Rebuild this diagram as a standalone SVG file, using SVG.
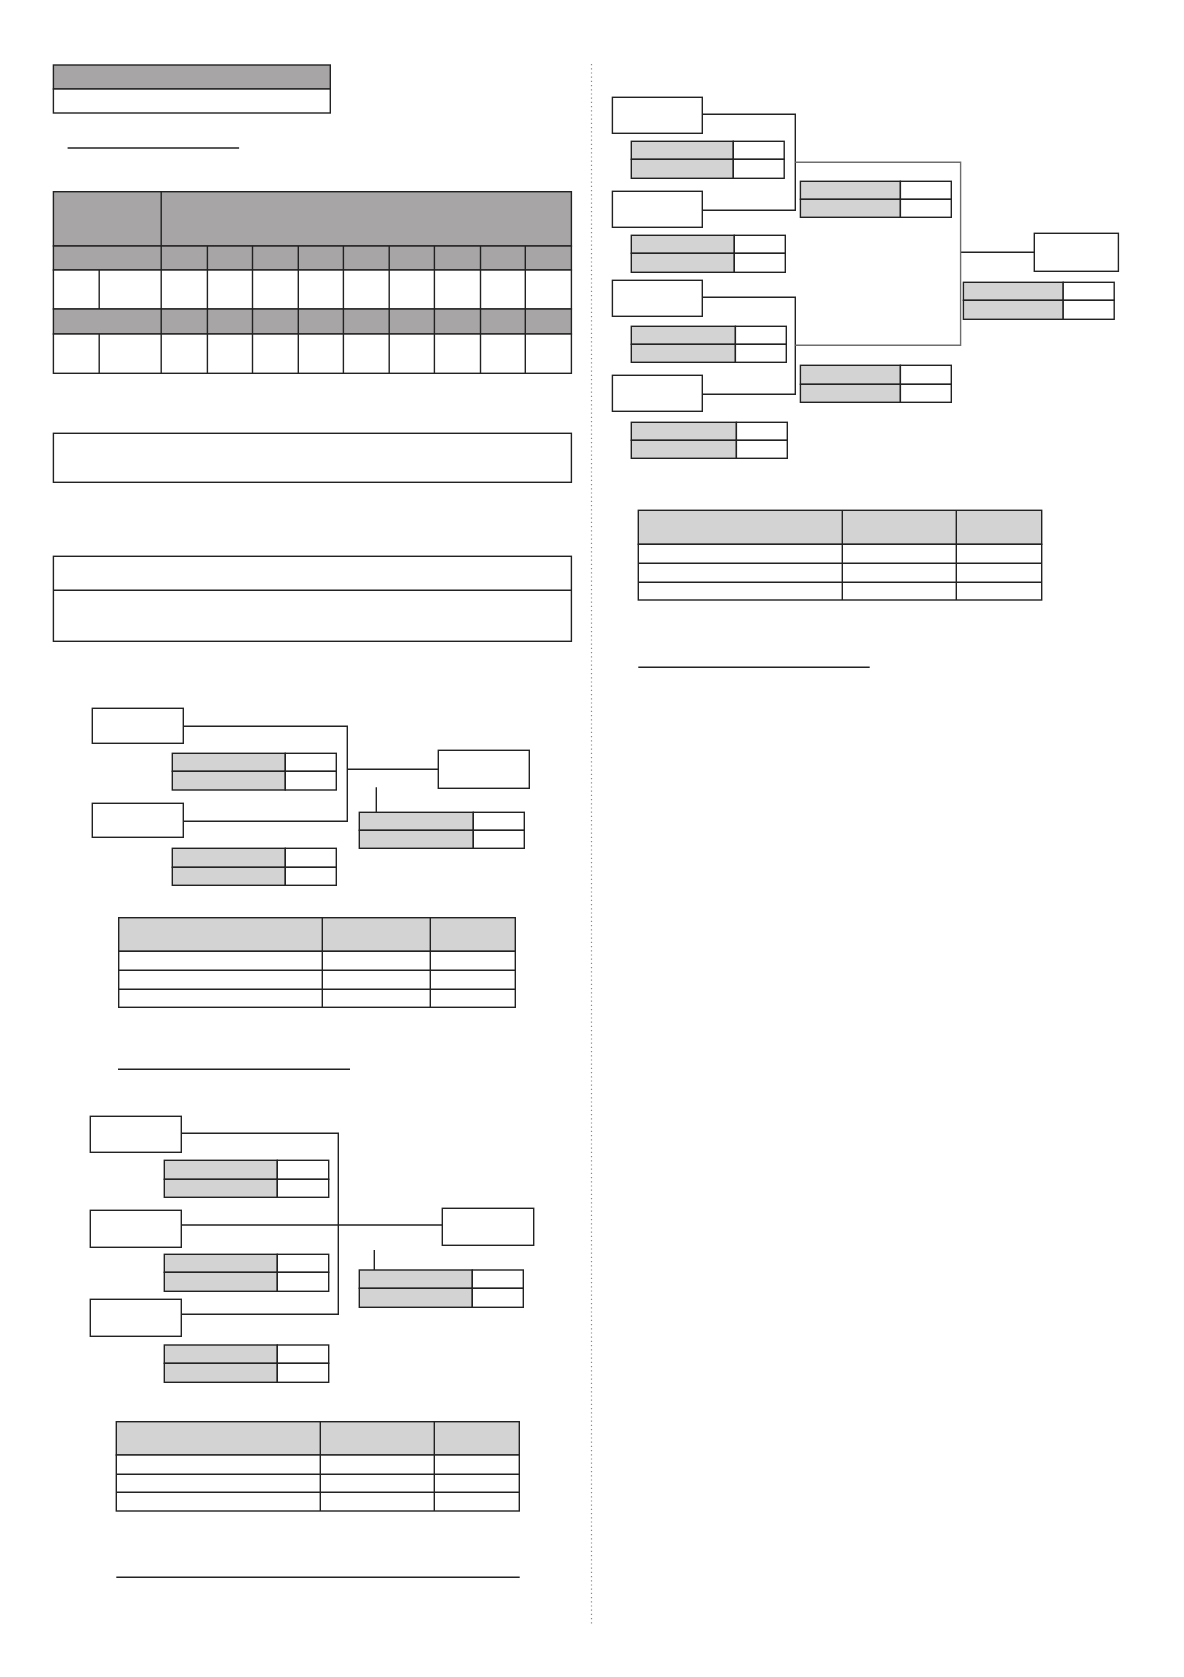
<svg xmlns="http://www.w3.org/2000/svg" width="1184" height="1677" viewBox="0 0 1184 1677">
<style>
.b{fill:#fff;stroke:#222;stroke-width:1.4}
.g{fill:#a7a5a6;stroke:#222;stroke-width:1.4}
.lg{fill:#d3d3d3;stroke:#222;stroke-width:1.4}
.l{fill:none;stroke:#222;stroke-width:1.4}
.ul{fill:none;stroke:#222;stroke-width:1.6}
</style>
<rect width="1184" height="1677" fill="#fff"/>
<line x1="591.5" y1="64" x2="591.5" y2="1624" stroke="#888" stroke-width="1.2" stroke-dasharray="1.2 3"/>

<g id="header-box">
<rect class="g" x="53.4" y="65" width="276.9" height="24"/>
<rect class="b" x="53.4" y="89" width="276.9" height="24"/>
</g>
<line class="ul" x1="67.6" y1="148" x2="239.1" y2="148" stroke-width="2.2"/>

<g id="grid-table">
<rect class="g" x="53.4" y="191.7" width="518" height="54.3"/>
<rect class="g" x="53.4" y="246" width="518" height="24"/>
<rect class="b" x="53.4" y="270" width="518" height="39"/>
<rect class="g" x="53.4" y="309" width="518" height="25"/>
<rect class="b" x="53.4" y="334" width="518" height="39.3"/>
<path class="l" d="M161.2 191.7V373.3M207.4 246V373.3M252.5 246V373.3M298.3 246V373.3M343.4 246V373.3M389.2 246V373.3M434.4 246V373.3M480.5 246V373.3M525.3 246V373.3M99.2 270V309M99.2 334V373.3"/>
</g>

<g id="box-1"><rect class="b" x="53.4" y="433.3" width="518" height="49"/></g>
<g id="box-2">
<rect class="b" x="53.4" y="556.3" width="518" height="85"/>
<line class="l" x1="53.4" y1="590.3" x2="571.4" y2="590.3"/>
</g>

<!-- Bracket 1 -->
<g id="connectors-1">
<path class="l" d="M183.3 726.3H347.3V821.3H183.3M347.3 769.3H438.3M376.3 787.3V812.3"/>
</g>
<g id="b1-nodeA"><rect class="b" x="92.3" y="708.3" width="91" height="35"/></g>
<g id="b1-scoreA">
<rect class="lg" x="172.3" y="753.3" width="113" height="18"/><rect class="lg" x="172.3" y="771.3" width="113" height="18.7"/>
<rect class="b" x="285.3" y="753.3" width="51" height="18"/><rect class="b" x="285.3" y="771.3" width="51" height="18.7"/>
</g>
<g id="b1-nodeB"><rect class="b" x="92.3" y="803.3" width="91" height="34"/></g>
<g id="b1-scoreB">
<rect class="lg" x="172.3" y="848.3" width="113" height="19"/><rect class="lg" x="172.3" y="867.3" width="113" height="18"/>
<rect class="b" x="285.3" y="848.3" width="51" height="19"/><rect class="b" x="285.3" y="867.3" width="51" height="18"/>
</g>
<g id="b1-nodeC"><rect class="b" x="438.3" y="750.3" width="91" height="38"/></g>
<g id="b1-scoreC">
<rect class="lg" x="359.3" y="812.3" width="114" height="18"/><rect class="lg" x="359.3" y="830.3" width="114" height="18"/>
<rect class="b" x="473.3" y="812.3" width="51" height="18"/><rect class="b" x="473.3" y="830.3" width="51" height="18"/>
</g>
<g id="b1-table">
<rect class="lg" x="118.7" y="917.7" width="396.6" height="33.6"/>
<rect class="b" x="118.7" y="951.3" width="396.6" height="56"/>
<path class="l" d="M118.7 970.3H515.3M118.7 989.3H515.3M322.3 917.7V1007.3M430.3 917.7V1007.3"/>
</g>
<line class="ul" x1="118" y1="1069.3" x2="350" y2="1069.3"/>

<!-- Bracket 2 -->
<g id="connectors-2">
<path class="l" d="M181.3 1133.3H338.3V1314.3H181.3M181.3 1225H442.3M374.3 1250V1270"/>
</g>
<g id="b2-nodeD"><rect class="b" x="90.3" y="1116.3" width="91" height="36"/></g>
<g id="b2-scoreD">
<rect class="lg" x="164.3" y="1160.3" width="113" height="19"/><rect class="lg" x="164.3" y="1179.3" width="113" height="18"/>
<rect class="b" x="277.3" y="1160.3" width="51.4" height="19"/><rect class="b" x="277.3" y="1179.3" width="51.4" height="18"/>
</g>
<g id="b2-nodeE"><rect class="b" x="90.3" y="1210.3" width="91" height="37"/></g>
<g id="b2-scoreE">
<rect class="lg" x="164.3" y="1254.3" width="113" height="18"/><rect class="lg" x="164.3" y="1272.3" width="113" height="19"/>
<rect class="b" x="277.3" y="1254.3" width="51.4" height="18"/><rect class="b" x="277.3" y="1272.3" width="51.4" height="19"/>
</g>
<g id="b2-nodeF"><rect class="b" x="90.3" y="1299.3" width="91" height="37"/></g>
<g id="b2-scoreF">
<rect class="lg" x="164.3" y="1345" width="113" height="18.3"/><rect class="lg" x="164.3" y="1363.3" width="113" height="19"/>
<rect class="b" x="277.3" y="1345" width="51.4" height="18.3"/><rect class="b" x="277.3" y="1363.3" width="51.4" height="19"/>
</g>
<g id="b2-nodeG"><rect class="b" x="442.3" y="1208.3" width="91.4" height="37"/></g>
<g id="b2-scoreG">
<rect class="lg" x="359.3" y="1270" width="113" height="18.3"/><rect class="lg" x="359.3" y="1288.3" width="113" height="19"/>
<rect class="b" x="472.3" y="1270" width="51" height="18.3"/><rect class="b" x="472.3" y="1288.3" width="51" height="19"/>
</g>
<g id="b2-table">
<rect class="lg" x="116.3" y="1421.7" width="403" height="33.3"/>
<rect class="b" x="116.3" y="1455" width="403" height="56"/>
<path class="l" d="M116.3 1474.3H519.3M116.3 1492.3H519.3M320.3 1421.7V1511M434.3 1421.7V1511"/>
</g>
<line class="ul" x1="116.3" y1="1577.3" x2="519.7" y2="1577.3"/>

<!-- Bracket 3 -->
<g id="connectors-3">
<path class="l" d="M702.3 114.3H795.3V210.3H702.3M702.3 297.3H795.3V394.3H702.3M960.6 252.3H1034.3"/>
<path fill="none" stroke="#6e6e6e" stroke-width="1.4" d="M795.3 162.3H960.6V345.3H795.3"/>
</g>
<g id="b3-node1"><rect class="b" x="612.4" y="97.3" width="89.9" height="36"/></g>
<g id="b3-score1">
<rect class="lg" x="631.3" y="141.3" width="102" height="18"/><rect class="lg" x="631.3" y="159.3" width="102" height="19"/>
<rect class="b" x="733.3" y="141.3" width="50.9" height="18"/><rect class="b" x="733.3" y="159.3" width="50.9" height="19"/>
</g>
<g id="b3-node2"><rect class="b" x="612.4" y="191.3" width="89.9" height="36"/></g>
<g id="b3-score2">
<rect class="lg" x="631.3" y="235.3" width="103" height="18"/><rect class="lg" x="631.3" y="253.3" width="103" height="19"/>
<rect class="b" x="734.3" y="235.3" width="51" height="18"/><rect class="b" x="734.3" y="253.3" width="51" height="19"/>
</g>
<g id="b3-node3"><rect class="b" x="612.4" y="280.3" width="89.9" height="36"/></g>
<g id="b3-score3">
<rect class="lg" x="631.3" y="326.3" width="104.1" height="18"/><rect class="lg" x="631.3" y="344.3" width="104.1" height="18"/>
<rect class="b" x="735.4" y="326.3" width="50.9" height="18"/><rect class="b" x="735.4" y="344.3" width="50.9" height="18"/>
</g>
<g id="b3-node4"><rect class="b" x="612.4" y="375.3" width="89.9" height="36"/></g>
<g id="b3-score4">
<rect class="lg" x="631.3" y="422.3" width="105.1" height="18"/><rect class="lg" x="631.3" y="440.3" width="105.1" height="18"/>
<rect class="b" x="736.4" y="422.3" width="50.9" height="18"/><rect class="b" x="736.4" y="440.3" width="50.9" height="18"/>
</g>
<g id="b3-mid1">
<rect class="lg" x="800.4" y="181.3" width="100" height="18"/><rect class="lg" x="800.4" y="199.3" width="100" height="18"/>
<rect class="b" x="900.4" y="181.3" width="50.9" height="18"/><rect class="b" x="900.4" y="199.3" width="50.9" height="18"/>
</g>
<g id="b3-mid2">
<rect class="lg" x="800.4" y="365.3" width="100" height="19"/><rect class="lg" x="800.4" y="384.3" width="100" height="18"/>
<rect class="b" x="900.4" y="365.3" width="50.9" height="19"/><rect class="b" x="900.4" y="384.3" width="50.9" height="18"/>
</g>
<g id="b3-final"><rect class="b" x="1034.3" y="233.3" width="84.1" height="38"/></g>
<g id="b3-final-score">
<rect class="lg" x="963.4" y="282.3" width="99.8" height="18"/><rect class="lg" x="963.4" y="300.3" width="99.8" height="19"/>
<rect class="b" x="1063.2" y="282.3" width="51" height="18"/><rect class="b" x="1063.2" y="300.3" width="51" height="19"/>
</g>
<g id="b3-table">
<rect class="lg" x="638.3" y="510.3" width="403.4" height="34"/>
<rect class="b" x="638.3" y="544.3" width="403.4" height="55.7"/>
<path class="l" d="M638.3 563.3H1041.7M638.3 582.3H1041.7M842.3 510.3V600M956.3 510.3V600"/>
</g>
<line class="ul" x1="638.3" y1="667.3" x2="869.7" y2="667.3"/>
</svg>
